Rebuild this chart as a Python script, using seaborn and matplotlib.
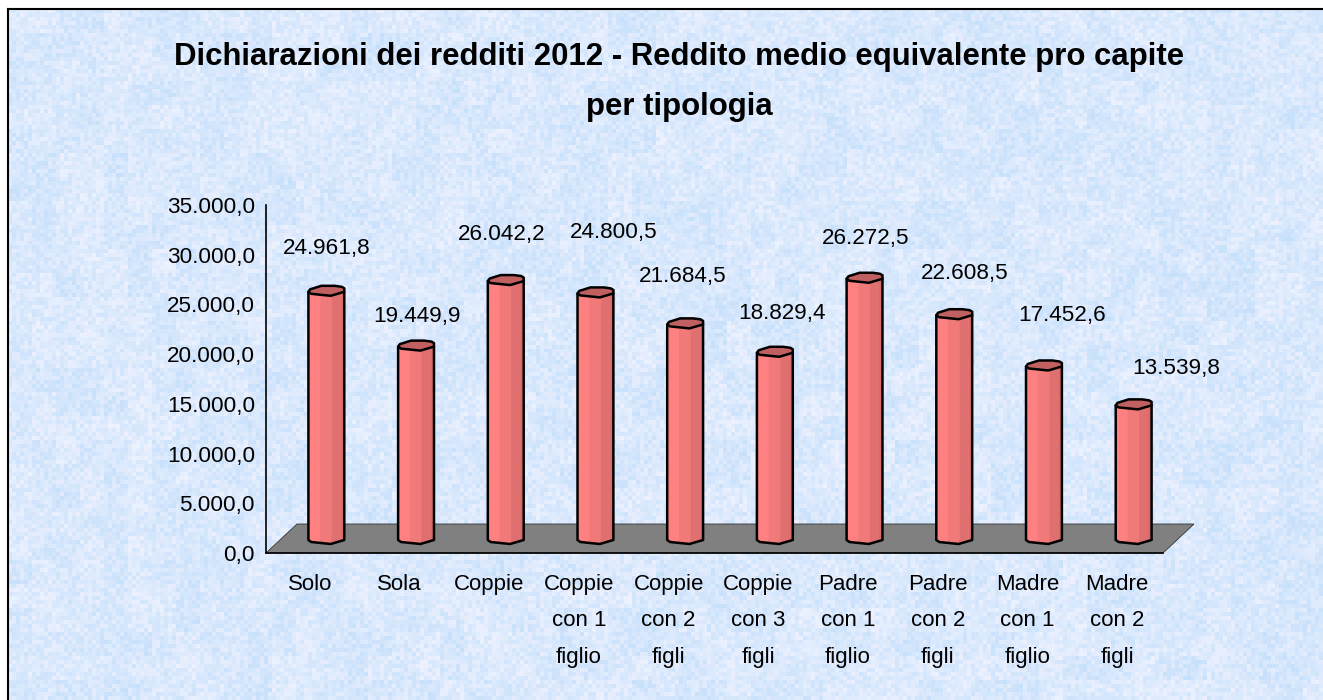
"""
Reddito medio equivalente pro capite per tipologia - 3D style column chart
"""

import numpy as np
import pandas as pd
import matplotlib
matplotlib.use('Agg')
import matplotlib.pyplot as plt
from matplotlib.patches import Polygon
import seaborn as sns

# Data
categories = ['Solo', 'Sola', 'Coppie', 'Coppie\ncon 1\nfiglio', 'Coppie\ncon 2\nfigli',
              'Coppie\ncon 3\nfigli', 'Padre\ncon 1\nfiglio', 'Padre\ncon 2\nfigli',
              'Madre\ncon 1\nfiglio', 'Madre\ncon 2\nfigli']
redditi = [24961.8, 19449.9, 26042.2, 24800.5, 21684.5,
           18829.4, 26272.5, 22608.5, 17452.6, 13539.8]
y_ticks = [0, 5000, 10000, 15000, 20000, 25000, 30000, 35000]
title = 'Dichiarazioni dei redditi 2012 - Reddito medio equivalente pro capite\nper tipologia'

# Where each value label sits relative to the top of its bar (pixels)
label_dx = [0, 1, -4, 18, -2, 7, 1, 10, 18, 43]
label_dy = [42, 29, 45, 59, 46, 38, 39, 40, 49, 35]

W, H = 1323, 700
AX_LEFT, AX_RIGHT, AX_TOP, AX_BOTTOM = 266, 1163, 205, 553
DEPTH_X, DEPTH_Y = 31, 29


def it_num(v):
    """Format with dot thousands and comma decimal, like the Italian locale"""
    return f'{v:,.1f}'.replace(',', 'X').replace('.', ',').replace('X', '.')


def px_axes(left, right, top, bottom):
    return [left / W, 1 - bottom / H, (right - left) / W, (bottom - top) / H]


def hash_noise(rows, cols, seed):
    """Deterministic speckle used only for the paper texture of the background"""
    yy, xx = np.mgrid[0:rows, 0:cols]
    v = np.sin(xx * 12.9898 + yy * 78.233 + seed) * 43758.5453
    return v - np.floor(v)


sns.set_theme(style='white')
plt.rcParams['font.family'] = ['Liberation Sans', 'DejaVu Sans']

fig = plt.figure(figsize=(W / 100, H / 100), dpi=100, facecolor='white')

# Textured blue background, made of 4 px blocks
bg_ax = fig.add_axes(px_axes(8, W, 9, H), zorder=0)
rows, cols = (H - 9) // 4 + 1, (W - 8) // 4 + 1
fine = hash_noise(rows, cols, 1.0)
coarse = hash_noise(rows // 6 + 2, cols // 6 + 2, 7.0)
coarse = np.kron(coarse, np.ones((6, 6)))[:rows, :cols]
amount = 0.65 * fine + 0.35 * coarse
light = np.array([238, 242, 255]) / 255
dark = np.array([198, 224, 251]) / 255
texture = dark + (light - dark) * amount[..., None]
bg_ax.imshow(texture, aspect='auto', interpolation='nearest')
bg_ax.set_xticks([])
bg_ax.set_yticks([])
for side in ['right', 'bottom']:
    bg_ax.spines[side].set_visible(False)
for side in ['left', 'top']:
    bg_ax.spines[side].set_color('black')
    bg_ax.spines[side].set_linewidth(1.5)

df = pd.DataFrame({'categoria': categories, 'reddito': redditi})

# Main axes: scales, ticks and the grey floor
ax = fig.add_axes(px_axes(AX_LEFT, AX_RIGHT, AX_TOP, AX_BOTTOM), zorder=1)
ax.patch.set_alpha(0)
ax.set_xlim(0, len(categories))
ax.set_ylim(0, 35000)
ax.set_yticks(y_ticks)
ax.set_yticklabels([it_num(t) for t in y_ticks], fontsize=16.2, color='black')
ax.set_xticks(np.arange(len(categories) + 1))
ax.set_xticklabels([''] * (len(categories) + 1))
ax.tick_params(axis='y', direction='out', length=5, width=1.2, color='black', pad=3)
ax.tick_params(axis='x', direction='out', length=5.5, width=1.2, color='black')
for side in ['top', 'right']:
    ax.spines[side].set_visible(False)
for side in ['left', 'bottom']:
    ax.spines[side].set_color('black')
    ax.spines[side].set_linewidth(1.2)

ax_w, ax_h = AX_RIGHT - AX_LEFT, AX_BOTTOM - AX_TOP
floor = Polygon([(0, 0), (1, 0), (1 + DEPTH_X / ax_w, DEPTH_Y / ax_h), (DEPTH_X / ax_w, DEPTH_Y / ax_h)],
                closed=True, transform=ax.transAxes, facecolor='#808080', edgecolor='#333333',
                linewidth=0.6, clip_on=False, zorder=1)
ax.add_patch(floor)

# Category labels, centred under each slot
for i, cat in enumerate(categories):
    ax.annotate(cat, xy=(i + 0.5, 0), xycoords='data', xytext=(-1, -21), textcoords='offset pixels',
                ha='center', va='top', fontsize=16, linespacing=1.96, color='black')

# Bars live on a copy of the axes pushed half way into the depth of the floor
bar_ax = fig.add_axes(px_axes(AX_LEFT + DEPTH_X / 2, AX_RIGHT + DEPTH_X / 2,
                              AX_TOP - DEPTH_Y / 2, AX_BOTTOM - DEPTH_Y / 2), zorder=2)
bar_ax.patch.set_alpha(0)
sns.barplot(data=df, x='categoria', y='reddito', color='#FF8080', saturation=1, width=0.4,
            linewidth=0, ax=bar_ax)
bar_ax.set_xlim(-0.5, len(categories) - 0.5)
bar_ax.set_ylim(0, 35000)
bar_ax.axis('off')

px_y = 35000 / ax_h

# Cross section of the bar: (fraction of the width, pixels from the centre line)
front_edge = [(0, -1.5), (0.08, -3.5), (0.62, -5.5), (1, -1.5)]
back_edge = [(1, 2), (0.93, 3.5), (0.73, 4.5), (0.36, 4.5), (0.05, 1)]
facets = [(0.0, 0.33, '#FF8080'), (0.33, 0.65, '#F07A7A'), (0.65, 0.9, '#E07070'), (0.9, 1.0, '#D86C6C')]


def edge_y(frac):
    """Height of the front edge at a fraction of the bar width"""
    return np.interp(frac, [p[0] for p in front_edge], [p[1] for p in front_edge])


for patch, v in zip(bar_ax.patches, redditi):
    x0, w = patch.get_x(), patch.get_width()
    xs = lambda f: x0 + f * w

    # Vertical facets, from the base profile to the top profile
    for f0, f1, col in facets:
        fr = [f for f in [f0, 0.08, 0.62, f1] if f0 <= f <= f1]
        low = [(xs(f), edge_y(f) * px_y) for f in fr]
        high = [(xs(f), v + edge_y(f) * px_y) for f in reversed(fr)]
        bar_ax.add_patch(Polygon(low + high, closed=True, facecolor=col, edgecolor='none',
                                 clip_on=False, zorder=3))

    # Outline of the body
    outline = [(xs(f), v + d * px_y) for f, d in front_edge[:1]]
    outline += [(xs(f), d * px_y) for f, d in front_edge]
    outline += [(xs(1), v + front_edge[-1][1] * px_y)]
    bar_ax.plot(*zip(*outline), color='black', lw=1.8, clip_on=False, zorder=4, solid_joinstyle='round')

    # Darker cap
    cap = [(xs(f), v + d * px_y) for f, d in front_edge + back_edge]
    bar_ax.add_patch(Polygon(cap, closed=True, facecolor='#C06060', edgecolor='black', linewidth=1.8,
                             clip_on=False, zorder=5, joinstyle='round'))

# Value labels
for i, (v, dx, dy) in enumerate(zip(redditi, label_dx, label_dy)):
    bar_ax.annotate(it_num(v), xy=(i, v), xytext=(dx, dy), textcoords='offset pixels',
                    ha='center', va='center', fontsize=16.2, color='black',
                    annotation_clip=False, zorder=6)

fig.text(679 / W, 1 - 57 / H, title.split('\n')[0], ha='center', va='center', fontsize=22.4,
         fontweight='bold', color='black')
fig.text(679 / W, 1 - 107 / H, title.split('\n')[1], ha='center', va='center', fontsize=22.4,
         fontweight='bold', color='black')

plt.savefig('out.png', dpi=100, facecolor='white')
